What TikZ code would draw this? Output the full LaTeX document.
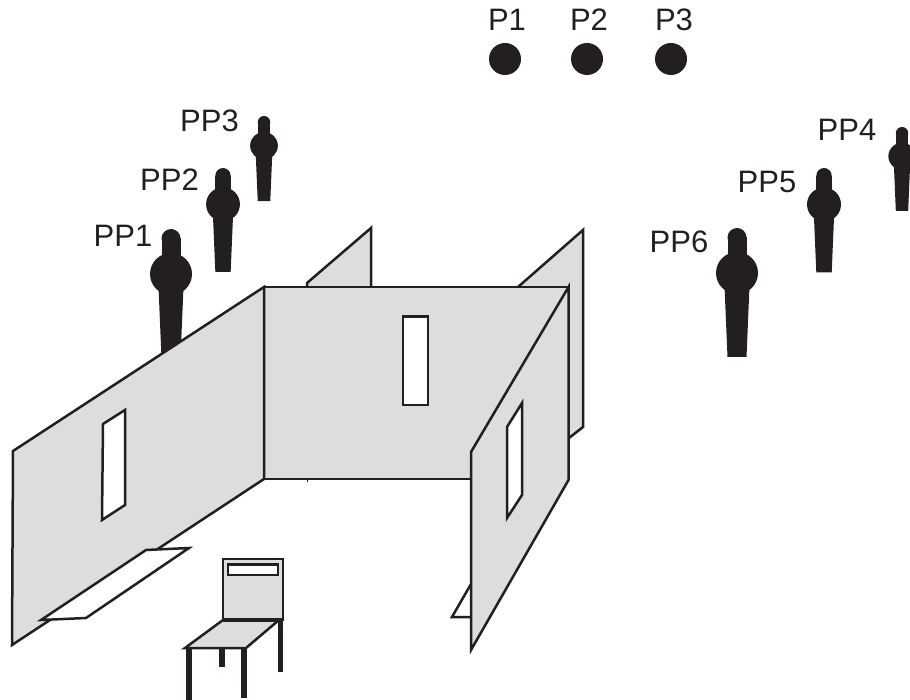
\documentclass[tikz,border=0pt]{standalone}
\usepackage{fontspec}
\setmainfont{Liberation Sans}
\definecolor{ink}{HTML}{231F20}
\definecolor{wallgray}{HTML}{DCDDDF}
\tikzset{
  wall/.style={draw=ink,fill=wallgray,line width=2.5pt,line join=miter},
  hole/.style={draw=ink,fill=white,line width=2.5pt,line join=miter},
  leg/.style={draw=ink,line width=5.5pt},
  lbl/.style={font=\fontsize{31}{31}\selectfont,text=ink,inner sep=0pt,anchor=base},
  person/.pic={
    \fill[ink] (0,9.5) circle[radius=9.5];
    \fill[ink] (-9.5,9.5) rectangle (9.5,40);
    \fill[ink] (0,45) circle[radius=21];
    \fill[ink] (-12.5,58) -- (-9.5,129) -- (9.5,129) -- (12.5,58) -- cycle;
  }
}
\begin{document}
\begin{tikzpicture}[x=1pt,y=-1pt]
\useasboundingbox (0,0) rectangle (910,700);
\clip (0,0) rectangle (910,700);
% dots
\fill[ink] (505,59) circle[radius=16];
\fill[ink] (587,59) circle[radius=16];
\fill[ink] (671,59) circle[radius=16];
\node[lbl] (p1) at (507,31) {P1};
\node[lbl] (p2) at (589,31) {P2};
\node[lbl] (p3) at (674,31) {P3};
% people
\pic[scale=1] at (171,229) {person};
\pic[scale=.806] at (223,168) {person};
\pic[scale=.66] at (264,116) {person};
\pic[scale=.65] at (902,127) {person};
\pic[scale=.81] at (824,168) {person};
\pic[scale=1] at (737,228) {person};
\node[lbl] (pp1) at (123,247) {PP1};
\node[lbl] (pp2) at (169.5,191) {PP2};
\node[lbl] (pp3) at (209.5,132) {PP3};
\node[lbl] (pp4) at (847,141) {PP4};
\node[lbl] (pp5) at (767,193) {PP5};
\node[lbl] (pp6) at (679,253) {PP6};
% back walls
\draw[wall] (307,288) -- (307,283) -- (371,228) -- (371,288);
\fill[wallgray] (518,287) -- (583,230) -- (583,427) -- (569,438) -- cycle;
\draw[draw=ink,line width=2.5pt] (518,287) -- (583,230) -- (583,427) -- (569,438);
% middle wall
\draw[wall] (264,287) rectangle (568,479);
\draw[draw=ink,line width=1pt] (307,479) -- (307,482);
\draw[hole] (403,316.5) rectangle (428,405);
% left wall
\draw[wall] (13,451) -- (264,287) -- (264,479) -- (12,645) -- cycle;
\draw[hole] (103,424) -- (125,410) -- (125,505) -- (102,520) -- cycle;
\draw[hole] (146,550) -- (189,548) -- (86,618) -- (41,620) -- cycle;
% right floor
\draw[hole] (471,584) -- (452,617) -- (471,617);
% right wall
\draw[wall] (471,452) -- (568.5,287) -- (568.5,480) -- (471,650) -- cycle;
\draw[hole] (507,427) -- (522,403) -- (522,495) -- (507,518) -- cycle;
% chair
\draw[wall] (223,559) rectangle (283,620);
\draw[hole] (228,564.5) rectangle (278,575);
\draw[wall] (223,620) -- (283,620) -- (279,620) -- (246,648) -- (185,648) -- cycle;
\draw[draw=ink,line width=3.5pt] (223,620) -- (282,620);
\draw[leg] (189,648) -- (189,700);
\draw[leg] (244,648) -- (244,698);
\draw[leg] (222,648) -- (222,667);
\draw[leg] (280.5,620) -- (280.5,672);
\end{tikzpicture}
\end{document}
